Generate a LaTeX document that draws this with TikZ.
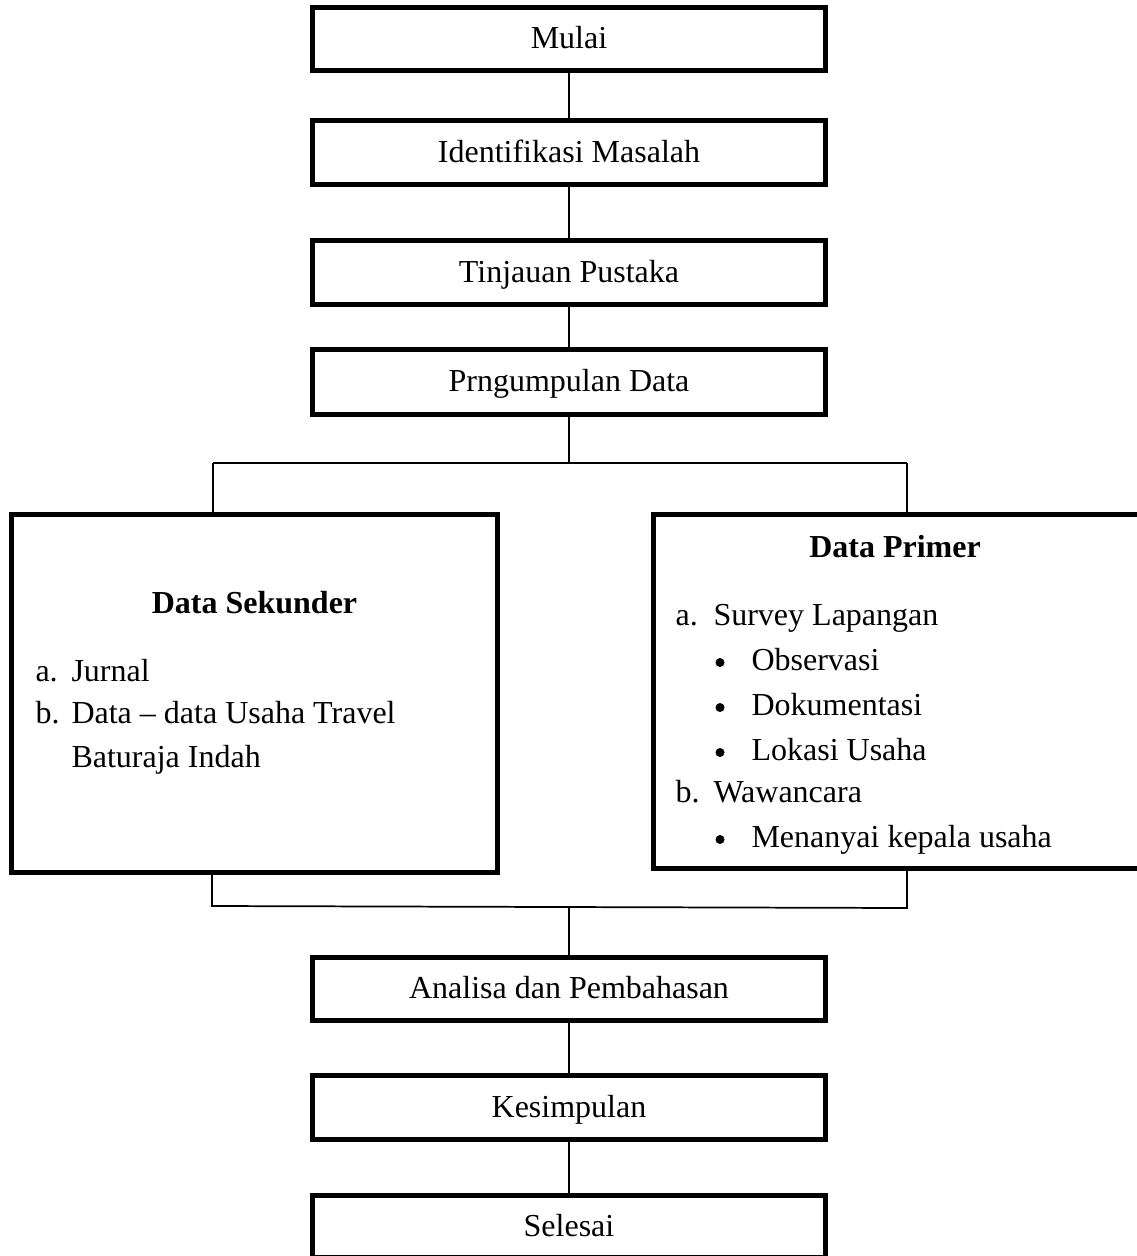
\documentclass[tikz,border=0pt]{standalone}
\usepackage{fontspec}
\setmainfont{Liberation Serif}
\begin{document}
\begin{tikzpicture}[x=0.375pt,y=-0.375pt,
  font=\fontsize{12}{16.5}\selectfont,
  flowbox/.style={draw, rectangle, line width=1.875pt, inner sep=0pt,
    minimum width=513*0.375pt, minimum height=64*0.375pt,
    text height=9.6pt, text depth=2.16pt, align=center},
  bigbox/.style={draw, rectangle, line width=1.875pt, inner sep=0pt},
  conn/.style={line width=0.65pt},
  txt/.style={inner sep=0pt, anchor=base west},
  ttl/.style={inner sep=0pt, anchor=base, font=\fontsize{12}{16.5}\selectfont\bfseries},
  dotb/.style={circle, fill=black, inner sep=0pt, minimum size=9*0.375pt}]
\path[fill=white] (0,0) rectangle (1136,1256);
\useasboundingbox (0,0) rectangle (1136,1256);

% main column
\node[flowbox, minimum height=63*0.375pt] (mulai) at (569,39) {Mulai};
\node[flowbox] (ident) at (569,152.5) {Identifikasi Masalah};
\node[flowbox] (tinjau) at (569,272.5) {Tinjauan Pustaka};
\node[flowbox, minimum height=65*0.375pt] (kumpul) at (569,382) {Prngumpulan Data};

\node[flowbox, minimum height=63*0.375pt] (analisa) at (569,989) {Analisa dan Pembahasan};
\node[flowbox] (simpul) at (569,1107.5) {Kesimpulan};
\node[flowbox, minimum height=62*0.375pt] (selesai) at (569,1226.5) {Selesai};

% big boxes
\node[bigbox, minimum width=486*0.375pt, minimum height=358*0.375pt] (sek) at (254.5,693.5) {};
\node[bigbox, minimum width=490*0.375pt, minimum height=354*0.375pt] (pri) at (898.5,691.5) {};

% Data Sekunder text
\node[ttl] (sekttl) at (254.5,613) {Data Sekunder};
\node[txt] (sa) at (35,681) {a.};
\node[txt] (sat) at (71,681) {Jurnal};
\node[txt] (sb) at (35,723) {b.};
\node[txt] (sbt) at (71,723) {Data – data Usaha Travel};
\node[txt] (sbt2) at (71,767) {Baturaja Indah};

% Data Primer text
\node[ttl] (prittl) at (895,557) {Data Primer};
\node[txt] (pa) at (675,625) {a.};
\node[txt] (pat) at (713,625) {Survey Lapangan};
\node[dotb] (pb1) at (720,662.5) {};
\node[txt] (pt1) at (751,670) {Observasi};
\node[dotb] (pb2) at (720,707.5) {};
\node[txt] (pt2) at (751,715) {Dokumentasi};
\node[dotb] (pb3) at (720,752.5) {};
\node[txt] (pt3) at (751,760) {Lokasi Usaha};
\node[txt] (pb) at (675,802) {b.};
\node[txt] (pbt) at (713,802) {Wawancara};
\node[dotb] (pb4) at (720,839.5) {};
\node[txt] (pt4) at (751,847) {Menanyai kepala usaha};

% connectors
\draw[conn] (mulai.south) -- (ident.north);
\draw[conn] (ident.south) -- (tinjau.north);
\draw[conn] (tinjau.south) -- (kumpul.north);

\coordinate (split) at (569,463);
\coordinate (sl) at (213,463);
\coordinate (sr) at (907,463);
\draw[conn] (kumpul.south) -- (split);
\draw[conn] (sl) -- (sr);
\draw[conn] (sl) -- (sl |- sek.north);
\draw[conn] (sr) -- (sr |- pri.north);

\coordinate (jl) at (212,906);
\coordinate (jr) at (907,908);
\coordinate (join) at (569,907);
\draw[conn] (jl |- sek.south) -- (jl) -- (jr) -- (jr |- pri.south);
\draw[conn] (join) -- (analisa.north);

\draw[conn] (analisa.south) -- (simpul.north);
\draw[conn] (simpul.south) -- (selesai.north);
\end{tikzpicture}
\end{document}
